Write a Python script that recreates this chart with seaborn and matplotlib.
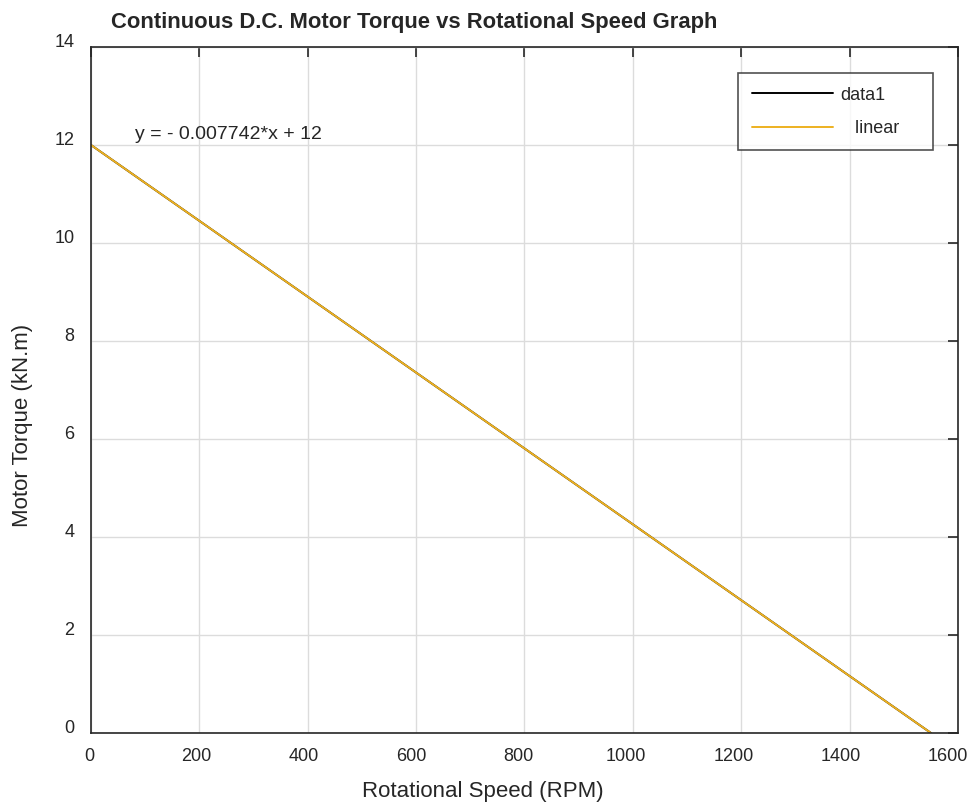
import numpy as np
import pandas as pd
import matplotlib
matplotlib.use("Agg")
import matplotlib.pyplot as plt
import matplotlib.transforms as mtrans
import seaborn as sns

sns.set_style("white")
plt.rcParams['font.family'] = ['Liberation Sans', 'DejaVu Sans']

# data
speed_rpm = [0, 1550]
torque_knm = [12, 0]
slope = -0.007742
intercept = 12
fit_x = [0, 1550]
fit_y = [intercept + slope * v for v in fit_x]

xticks = [0, 200, 400, 600, 800, 1000, 1200, 1400, 1600]
yticks = [0, 2, 4, 6, 8, 10, 12, 14]

fig = plt.figure(figsize=(9.74, 8.06), dpi=100)
ax = fig.add_axes([0.0934, 0.0906, 0.8902, 0.8511])

sns.lineplot(x=speed_rpm, y=torque_knm, ax=ax, color='black', lw=1.4, label='data1')
sns.lineplot(x=fit_x, y=fit_y, ax=ax, color='#EDB120', lw=1.4, label='   linear    ')

ax.set_xlim(0, 1600)
ax.set_ylim(0, 14)
ax.set_xticks(xticks)
ax.set_yticks(yticks)
ax.grid(True, color='#dcdcdc', lw=1)
ax.tick_params(direction='in', top=True, right=True, length=7, width=1.2,
               labelsize=13, colors='#262626')
ax.tick_params(axis='x', pad=11)
ax.tick_params(axis='y', pad=12)
for s in ax.spines.values():
    s.set_color('#262626')
    s.set_linewidth(1.2)

# tick labels sit a little left / up of their ticks in the reference
for v, lab in zip(xticks, ax.get_xticklabels()):
    dx = (-2 - 8 * v / 1600) / 100
    lab.set_transform(lab.get_transform() + mtrans.ScaledTranslation(dx, 0, fig.dpi_scale_trans))
for lab in ax.get_yticklabels():
    lab.set_transform(lab.get_transform() + mtrans.ScaledTranslation(0, 6 / 100, fig.dpi_scale_trans))

ax.set_xlabel('Rotational Speed (RPM)', fontsize=16, color='#262626')
ax.xaxis.set_label_coords(0.452, -0.070)
ax.set_ylabel('Motor Torque (kN.m)', fontsize=16, color='#262626')
ax.yaxis.set_label_coords(-0.067, 0.449)
ax.set_title('Continuous D.C. Motor Torque vs Rotational Speed Graph',
             fontsize=15.8, fontweight='bold', loc='left', x=0.023, pad=14)

ax.text(81, 12.22, 'y = - 0.007742*x + 12', fontsize=14, va='center', ha='left')

leg = ax.legend(loc='upper right', bbox_to_anchor=(0.971, 0.962), borderaxespad=0,
                frameon=True, fancybox=False, edgecolor='#262626', fontsize=13,
                handlelength=4.5, borderpad=0.75, labelspacing=0.9, handletextpad=0.4)
leg.get_frame().set_linewidth(1.2)

fig.savefig('out.png', dpi=100)
